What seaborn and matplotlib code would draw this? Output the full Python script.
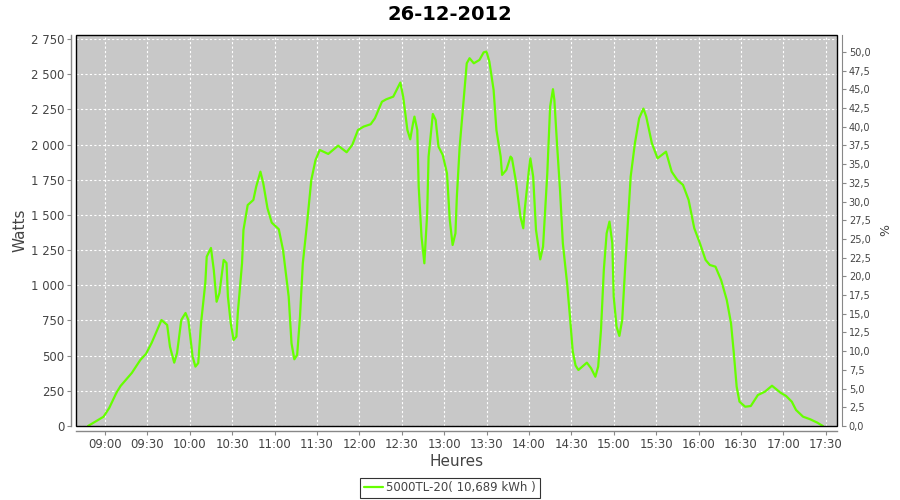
import pandas as pd
import matplotlib
matplotlib.use("Agg")
import matplotlib.pyplot as plt
import matplotlib.dates as mdates
from matplotlib.patches import Rectangle
from matplotlib.ticker import FuncFormatter, MultipleLocator
import seaborn as sns

# Production relevée le 26-12-2012
heures = [
    "08:48", "08:59", "09:03", "09:08", "09:11", "09:19", "09:25", "09:29", "09:33", "09:40",
    "09:44", "09:46", "09:49", "09:51", "09:54", "09:57", "09:59", "10:02", "10:04", "10:06",
    "10:08", "10:11", "10:12", "10:15", "10:17", "10:19", "10:21", "10:24", "10:26", "10:27",
    "10:29", "10:31", "10:33", "10:34", "10:37", "10:38", "10:41", "10:45", "10:47", "10:50",
    "10:52", "10:55", "10:58", "11:03", "11:06", "11:10", "11:12", "11:14", "11:16", "11:18",
    "11:20", "11:23", "11:26", "11:29", "11:32", "11:38", "11:45", "11:51", "11:55", "11:59",
    "12:03", "12:08", "12:11", "12:16", "12:19", "12:24", "12:27", "12:29", "12:31", "12:34",
    "12:36", "12:38", "12:39", "12:41", "12:42", "12:44", "12:46", "12:48", "12:49", "12:52",
    "12:54", "12:56", "12:59", "13:02", "13:04", "13:06", "13:08", "13:09", "13:11", "13:14",
    "13:16", "13:18", "13:21", "13:25", "13:28", "13:30", "13:32", "13:35", "13:37", "13:40",
    "13:41", "13:44", "13:47", "13:48", "13:51", "13:54", "13:56", "13:57", "14:00", "14:01",
    "14:03", "14:05", "14:08", "14:10", "14:13", "14:15", "14:17", "14:18", "14:20", "14:22",
    "14:24", "14:27", "14:29", "14:31", "14:33", "14:35", "14:41", "14:44", "14:47", "14:49",
    "14:51", "14:53", "14:55", "14:57", "14:59", "15:00", "15:02", "15:04", "15:06", "15:08",
    "15:10", "15:12", "15:15", "15:18", "15:21", "15:23", "15:27", "15:31", "15:34", "15:37",
    "15:41", "15:45", "15:49", "15:53", "15:57", "16:01", "16:05", "16:08", "16:12", "16:16",
    "16:20", "16:23", "16:25", "16:27", "16:29", "16:33", "16:37", "16:42", "16:47", "16:52",
    "16:58", "17:02", "17:06", "17:09", "17:14", "17:19", "17:24", "17:28",
]
watts = [
    0, 66, 128, 234, 284, 377, 469, 512, 590, 753,
    718, 563, 450, 518, 753, 803, 753, 493, 422, 447,
    732, 1016, 1203, 1265, 1109, 883, 945, 1180, 1158, 919,
    732, 611, 635, 803, 1158, 1393, 1570, 1606, 1700, 1807,
    1725, 1547, 1445, 1398, 1251, 919, 588, 474, 505, 777,
    1156, 1440, 1748, 1890, 1961, 1933, 1992, 1945, 1997, 2103,
    2127, 2144, 2186, 2304, 2321, 2340, 2400, 2440, 2340, 2103,
    2037, 2151, 2198, 2103, 1700, 1345, 1156, 1511, 1914, 2217,
    2174, 1985, 1926, 1796, 1464, 1286, 1369, 1629, 1985, 2340,
    2577, 2613, 2577, 2601, 2655, 2660, 2589, 2388, 2103, 1914,
    1784, 1819, 1914, 1902, 1725, 1487, 1405, 1535, 1819, 1902,
    1772, 1393, 1184, 1274, 1796, 2269, 2393, 2317, 1985, 1677,
    1298, 1014, 780, 530, 430, 398, 450, 410, 350, 422,
    682, 1109, 1369, 1452, 1298, 919, 706, 640, 753, 1109,
    1440, 1772, 2009, 2186, 2255, 2198, 2009, 1902, 1926, 1949,
    1807, 1748, 1713, 1606, 1405, 1298, 1180, 1144, 1132, 1037,
    895, 730, 516, 279, 173, 137, 142, 220, 244, 286,
    237, 213, 173, 114, 66, 48, 24, 0,
]
legende = "5000TL-20( 10,689 kWh )"

gris_texte = "#444444"
gris_axe = "#888888"

df = pd.DataFrame({"heure": pd.to_datetime(["2012-12-26 " + h for h in heures]),
                   "watts": watts})

sns.set_style("white")
plt.rcParams["font.family"] = ["DejaVu Sans"]

fig = plt.figure(figsize=(9, 5), dpi=100)
ax = fig.add_axes([76 / 900, 1 - 426 / 500, (837 - 76) / 900, (426 - 35) / 500])
ax.set_facecolor("#C8C8C8")

sns.lineplot(data=df, x="heure", y="watts", ax=ax, color="#66FF00", linewidth=1.6,
             label=legende, legend=False)

ax.set_xlim(pd.Timestamp("2012-12-26 08:39:30"), pd.Timestamp("2012-12-26 17:38:00"))
ax.set_ylim(0, 2778)
ax.yaxis.set_major_locator(MultipleLocator(250))
ax.yaxis.set_major_formatter(FuncFormatter(lambda v, p: f"{int(v):,}".replace(",", " ")))
ax.xaxis.set_major_locator(mdates.MinuteLocator(byminute=[0, 30]))
ax.xaxis.set_major_formatter(mdates.DateFormatter("%H:%M"))

ax.grid(True, color="white", linestyle=(0, (2, 2)), linewidth=0.8)

for nom in ["left", "bottom"]:
    ax.spines[nom].set_position(("outward", 3.5))
    ax.spines[nom].set_color(gris_axe)
    ax.spines[nom].set_linewidth(1)
ax.spines["top"].set_visible(False)
ax.spines["right"].set_visible(False)
ax.tick_params(axis="both", direction="out", length=3, width=0.8, color=gris_axe,
               labelcolor=gris_texte, labelsize=8.5, pad=2)
ax.tick_params(left=True, bottom=True)

ax.set_xlabel("Heures", fontsize=11, color=gris_texte, labelpad=2)
ax.set_ylabel("Watts", fontsize=11, color=gris_texte, labelpad=2)

# axe de droite en pourcentage
ax2 = ax.twinx()
ax2.set_ylim(0, 52.27)
ax2.yaxis.set_major_locator(MultipleLocator(2.5))
ax2.yaxis.set_major_formatter(FuncFormatter(lambda v, p: f"{v:.1f}".replace(".", ",")))
for nom in ["left", "bottom", "top"]:
    ax2.spines[nom].set_visible(False)
ax2.spines["right"].set_position(("outward", 3.5))
ax2.spines["right"].set_color(gris_axe)
ax2.tick_params(axis="y", direction="out", length=3, width=0.8, color=gris_axe,
                labelcolor=gris_texte, labelsize=7, pad=2, right=True)
ax2.set_ylabel("%", fontsize=9, color=gris_texte, labelpad=6)

# cadre noir de la zone de tracé
ax.add_patch(Rectangle((0, 0), 1, 1, transform=ax.transAxes, fill=False,
                       edgecolor="black", linewidth=1, zorder=10, clip_on=False))

fig.suptitle("26-12-2012", x=0.5, y=0.972, va="center", fontsize=14,
             fontweight="bold", color="black")

poignees, textes = ax.get_legend_handles_labels()
leg = fig.legend(poignees, textes, loc="center", bbox_to_anchor=(0.5, 1 - 488 / 500),
                 frameon=True, fancybox=False, fontsize=8.5, handlelength=1.6,
                 borderpad=0.3, handletextpad=0.3, borderaxespad=0)
leg.get_frame().set_edgecolor("black")
leg.get_frame().set_linewidth(0.8)
for t in leg.get_texts():
    t.set_color(gris_texte)

fig.savefig("out.png", dpi=100)
